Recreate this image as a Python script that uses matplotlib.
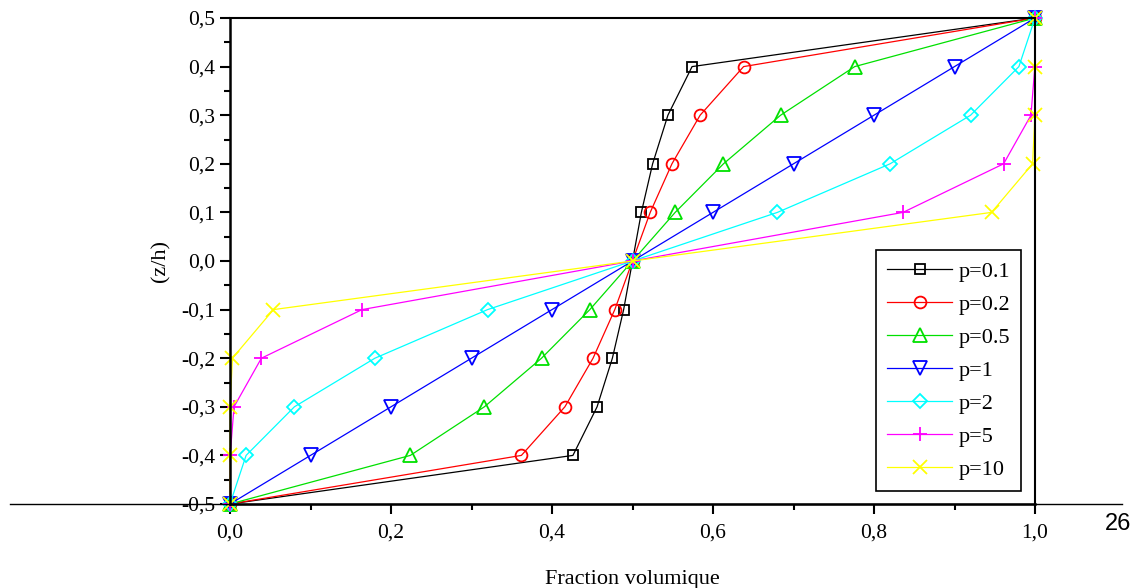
import matplotlib
matplotlib.use("Agg")
import matplotlib.pyplot as plt
from matplotlib.lines import Line2D
from matplotlib.ticker import MultipleLocator, FuncFormatter

plt.rcParams['font.family'] = ['Liberation Serif', 'DejaVu Serif']

z = [-0.5, -0.4, -0.3, -0.2, -0.1, 0.0, 0.1, 0.2, 0.3, 0.4, 0.5]
v_p01 = [0.0, 0.426, 0.456, 0.475, 0.489, 0.5, 0.511, 0.525, 0.544, 0.574, 1.0]
v_p02 = [0.0, 0.362, 0.416, 0.451, 0.478, 0.5, 0.522, 0.549, 0.584, 0.638, 1.0]
v_p05 = [0.0, 0.224, 0.316, 0.387, 0.447, 0.5, 0.553, 0.613, 0.684, 0.776, 1.0]
v_p1 = [0.0, 0.1, 0.2, 0.3, 0.4, 0.5, 0.6, 0.7, 0.8, 0.9, 1.0]
v_p2 = [0.0, 0.02, 0.08, 0.18, 0.32, 0.5, 0.68, 0.82, 0.92, 0.98, 1.0]
v_p5 = [0.0, 0.0002, 0.005, 0.039, 0.164, 0.5, 0.836, 0.961, 0.995, 0.9998, 1.0]
v_p10 = [0.0, 0.0, 0.0001, 0.003, 0.054, 0.5, 0.946, 0.997, 0.9999, 1.0, 1.0]

labels = ["p=0.1", "p=0.2", "p=0.5", "p=1", "p=2", "p=5", "p=10"]
series = [v_p01, v_p02, v_p05, v_p1, v_p2, v_p5, v_p10]
colors = ["black", "red", "#00e000", "blue", "cyan", "magenta", "yellow"]
markers = ["s", "o", "^", "v", "D", "+", "x"]
msizes = [7.5, 8.5, 9.5, 9.5, 7, 10, 10]

fig = plt.figure(figsize=(11.41, 5.88), dpi=100)
ax = fig.add_axes([230/1141, 1 - 504/588, (1035-230)/1141, (504-18)/588])

for v, lab, c, m, ms in zip(series, labels, colors, markers, msizes):
    ax.plot(v, z, color=c, marker=m, markersize=ms, markerfacecolor='none',
            markeredgecolor=c, markeredgewidth=1.3, linewidth=0.9, label=lab,
            clip_on=False)

ax.set_xlim(0, 1)
ax.set_ylim(-0.5, 0.5)
ax.xaxis.set_major_locator(MultipleLocator(0.2))
ax.xaxis.set_minor_locator(MultipleLocator(0.1))
ax.yaxis.set_major_locator(MultipleLocator(0.1))
ax.yaxis.set_minor_locator(MultipleLocator(0.05))
fmt = FuncFormatter(lambda x, p: ("%.1f" % (0.0 if abs(x) < 1e-9 else x)).replace('.', ','))
ax.xaxis.set_major_formatter(fmt)
ax.yaxis.set_major_formatter(fmt)
ax.tick_params(axis='both', which='major', direction='out', length=7, width=1.5,
               labelsize=15.5, top=False, right=False)
ax.tick_params(axis='x', which='major', pad=7)
ax.tick_params(axis='both', which='minor', direction='out', length=4.5, width=1.5,
               top=False, right=False)
for s in ['left', 'bottom']:
    ax.spines[s].set_linewidth(1.8)
for s in ['top', 'right']:
    ax.spines[s].set_linewidth(1.5)

ax.set_xlabel("Fraction volumique", fontsize=16, labelpad=20)
ax.set_ylabel("(z/h)", fontsize=16, labelpad=8)

leg = ax.legend(loc='lower right', bbox_to_anchor=(0.983, 0.027), fontsize=16,
                frameon=True, fancybox=False, edgecolor='black', framealpha=1,
                handlelength=2.9, labelspacing=0.56, borderpad=0.5,
                handletextpad=0.3, borderaxespad=0)
leg.get_frame().set_linewidth(1.2)

fig.add_artist(Line2D([10/1141, 1122/1141], [1 - 504/588, 1 - 504/588],
                      transform=fig.transFigure, color='black', linewidth=1.0))
fig.text(1118/1141, 1 - 524/588, "26", fontsize=17, family=['Liberation Sans'],
         ha='center', va='center')

fig.savefig("out.png", dpi=100)
